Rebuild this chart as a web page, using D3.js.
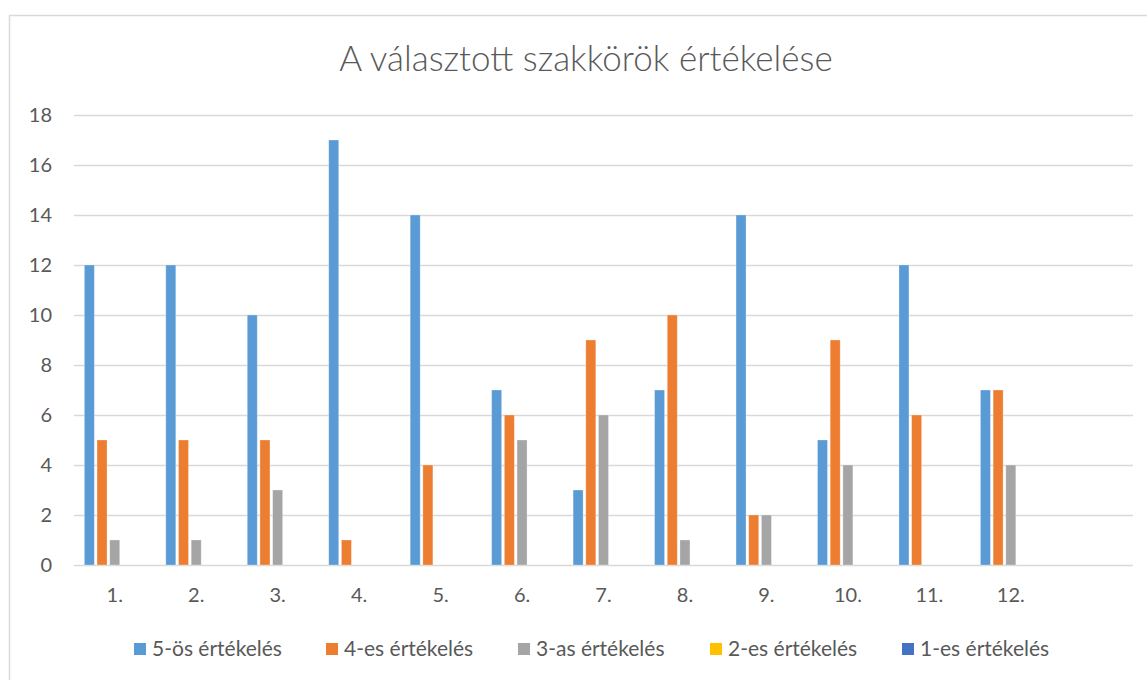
<!DOCTYPE html>
<html>
<head>
<meta charset="utf-8">
<script src="https://cdn.jsdelivr.net/npm/d3@7"></script>
<style>
  html, body { margin: 0; padding: 0; background: #fff; }
  svg { display: block; font-family: Lato, "Noto Sans", sans-serif; }
</style>
</head>
<body>
<svg id="chart" width="1147" height="680"></svg>
<script>
const title = "A választott szakkörök értékelése";
const categories = ["1.", "2.", "3.", "4.", "5.", "6.", "7.", "8.", "9.", "10.", "11.", "12.", ""];
const seriesNames = ["5-ös értékelés", "4-es értékelés", "3-as értékelés", "2-es értékelés", "1-es értékelés"];
const s5 = [12, 12, 10, 17, 14, 7, 3, 7, 14, 5, 12, 7];
const s4 = [5, 5, 5, 1, 4, 6, 9, 10, 2, 9, 6, 7];
const s3 = [1, 1, 3, 0, 0, 5, 6, 1, 2, 4, 0, 4];
const s2 = [0, 0, 0, 0, 0, 0, 0, 0, 0, 0, 0, 0];
const s1 = [0, 0, 0, 0, 0, 0, 0, 0, 0, 0, 0, 0];
const yTicks = [0, 2, 4, 6, 8, 10, 12, 14, 16, 18];
const colors = ["#5B9BD5", "#ED7D31", "#A5A5A5", "#FFC000", "#4472C4"];

const seriesValues = [s5, s4, s3, s2, s1];
const svg = d3.select("#chart");
const textColor = "#595959";
const gridColor = "#d9d9d9";

// chart border
svg.append("rect").attr("x", 9.5).attr("y", 15.5).attr("width", 1160).attr("height", 700)
  .attr("fill", "none").attr("stroke", gridColor).attr("stroke-width", 1.5);

const plot = { left: 74, right: 1133, top: 115, bottom: 565 };
const x0 = d3.scaleBand().domain(categories).range([plot.left, plot.right]).padding(0);
const groupWidth = x0.bandwidth() * 0.746;
const x1 = d3.scaleBand().domain(seriesNames)
  .range([(x0.bandwidth() - groupWidth) / 2, (x0.bandwidth() + groupWidth) / 2])
  .paddingInner(0.213).paddingOuter(0);
const y = d3.scaleLinear().domain([0, 18]).range([plot.bottom, plot.top]);

// gridlines
svg.append("g").selectAll("line").data(yTicks).join("line")
  .attr("x1", plot.left).attr("x2", plot.right)
  .attr("y1", d => Math.round(y(d)) + 0.5).attr("y2", d => Math.round(y(d)) + 0.5)
  .attr("stroke", gridColor).attr("stroke-width", 1.5);

// y axis labels
const yAxis = d3.axisLeft(y).tickValues(yTicks).tickSize(0).tickPadding(0);
const yg = svg.append("g").attr("transform", "translate(52,0)").call(yAxis);
yg.select(".domain").remove();
yg.selectAll("text").attr("fill", textColor).style("font-size", "20px").style("font-family", "Lato, 'Noto Sans', sans-serif");

// bars
const groups = svg.append("g").selectAll("g").data(categories.slice(0, s5.length)).join("g")
  .attr("transform", d => `translate(${x0(d)},0)`);
groups.selectAll("rect")
  .data((d, i) => seriesNames.map((name, k) => ({ name, k, v: seriesValues[k][i] })))
  .join("rect")
  .filter(d => d.v > 0)
  .attr("x", d => x1(d.name))
  .attr("width", x1.bandwidth())
  .attr("y", d => y(d.v))
  .attr("height", d => y(0) - y(d.v))
  .attr("fill", d => colors[d.k])
  .attr("stroke", "#ffffff").attr("stroke-opacity", 0.35).attr("stroke-width", 0.8);

// x axis labels
const xAxis = d3.axisBottom(x0).tickSize(0).tickPadding(0);
const xg = svg.append("g").attr("transform", `translate(0,${plot.bottom + 23})`).call(xAxis);
xg.select(".domain").remove();
xg.selectAll("text").attr("fill", textColor).style("font-size", "20px").style("font-family", "Lato, 'Noto Sans', sans-serif");

// title
svg.append("text").attr("x", 586).attr("y", 71).attr("text-anchor", "middle")
  .attr("fill", textColor).style("font-size", "35px").style("font-weight", 300)
  .text(title);

// legend
const legend = svg.append("g").attr("transform", "translate(134,643)");
const items = legend.selectAll("g").data(seriesNames).join("g")
  .attr("transform", (d, i) => `translate(${i * 192},0)`);
items.append("rect").attr("width", 12).attr("height", 12).attr("fill", (d, i) => colors[i]);
items.append("text").attr("x", 18).attr("y", 13).attr("fill", textColor)
  .style("font-size", "21px").text(d => d);
</script>
</body>
</html>
